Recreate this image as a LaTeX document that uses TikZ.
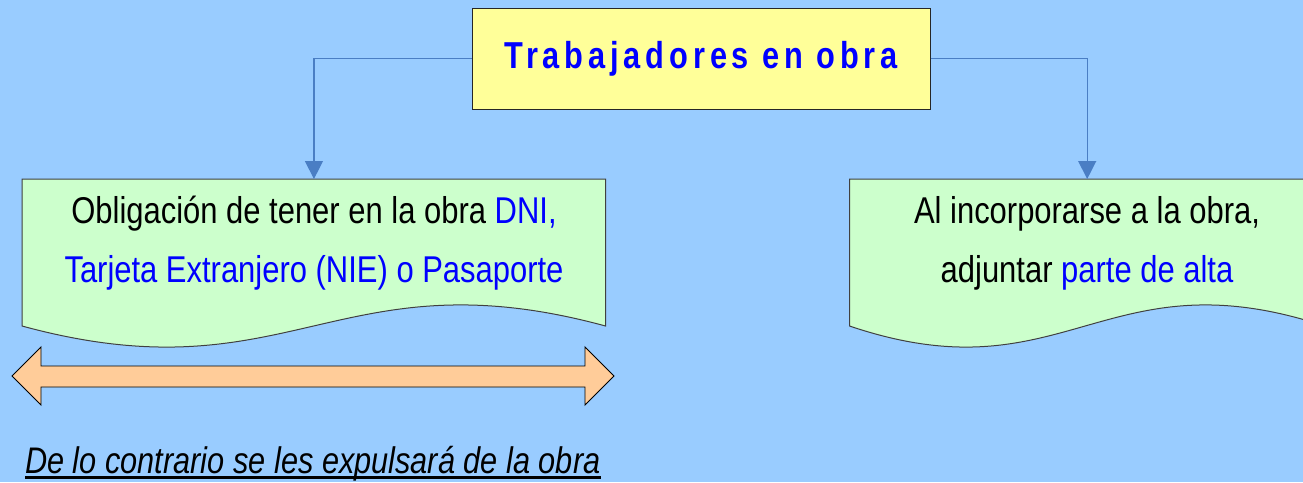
\documentclass[tikz,border=0pt]{standalone}
\usepackage{fontspec}
\setmainfont[FakeStretch=0.83]{Liberation Sans}
\newfontfamily\titlefont[FakeStretch=0.82,LetterSpace=13]{Liberation Sans}
\usetikzlibrary{arrows.meta}
\definecolor{bgblue}{HTML}{99CCFF}
\definecolor{ttlyellow}{HTML}{FFFF99}
\definecolor{docgreen}{HTML}{CCFFCC}
\definecolor{arrorange}{HTML}{FFCC99}
\definecolor{connblue}{HTML}{4A7EC4}
\definecolor{txtblue}{HTML}{0000FF}
\tikzset{
  titlebox/.style={draw=black!85, line width=1pt, fill=ttlyellow, minimum width=458pt, minimum height=101pt, inner sep=0pt,
    font=\titlefont\bfseries\fontsize{37.5}{40}\selectfont, text=txtblue},
  docframe/.style={draw=none, fill=none, inner sep=0pt, anchor=north west},
  docshape/.style={draw=black!75, line width=1pt, fill=docgreen},
  doctext/.style={inner sep=0pt, anchor=base, font=\fontsize{37.3}{40}\selectfont},
  connector/.style={draw=connblue, line width=1.3pt, -{Triangle[width=18pt,length=18pt]}},
  dblarrow/.style={draw=black, line width=0.9pt, fill=arrorange, line join=miter},
  warntext/.style={inner sep=0pt, anchor=base west, font=\itshape\fontsize{37}{40}\selectfont}
}
\begin{document}
\begin{tikzpicture}[x=1pt,y=-1pt]
\clip (0,0) rectangle (1303,482);
\fill[bgblue] (0,0) rectangle (1303,482);
\useasboundingbox (0,0) rectangle (1303,482);

% document shapes
\path[docshape] (22,179) -- (605.5,179) -- (605.5,326) .. controls (337,253) and (290,399) .. (22,326) -- cycle;
\path[docshape] (849.5,179) -- (1324.5,179) -- (1324.5,326) .. controls (1103.5,253) and (1065.5,399) .. (849.5,326) -- cycle;
\node[docframe, minimum width=583.5pt, minimum height=147pt] (ldoc) at (22,179) {};
\node[docframe, minimum width=475pt, minimum height=147pt] (rdoc) at (849.5,179) {};

% title
\node[titlebox] (title) at (701,58.5) {Trabajadores en obra};

% connectors
\draw[connector] (title.west) -| (ldoc.north);
\draw[connector] (title.east) -| (rdoc.north);

% texts in documents
\node[doctext] (l1) at (314,223) {Obligación de tener en la obra \textcolor{txtblue}{DNI,}};
\node[doctext, text=txtblue] (l2) at (314,282) {Tarjeta Extranjero (NIE) o Pasaporte};
\node[doctext] (r1) at (1087,223) {Al incorporarse a la obra,};
\node[doctext] (r2) at (1087,282) {adjuntar \textcolor{txtblue}{parte de alta}};

% double arrow
\path[dblarrow] (12,376) -- (41,347) -- (41,366) -- (585,366) -- (585,347) -- (614,376) -- (585,405) -- (585,387) -- (41,387) -- (41,405) -- cycle;

% warning text
\node[warntext] (warn) at (25,473) {De lo contrario se les expulsará de la obra};
\draw[line width=2.5pt] ([yshift=-4.5pt]warn.base west) -- ([yshift=-4.5pt]warn.base east);
\end{tikzpicture}
\end{document}
